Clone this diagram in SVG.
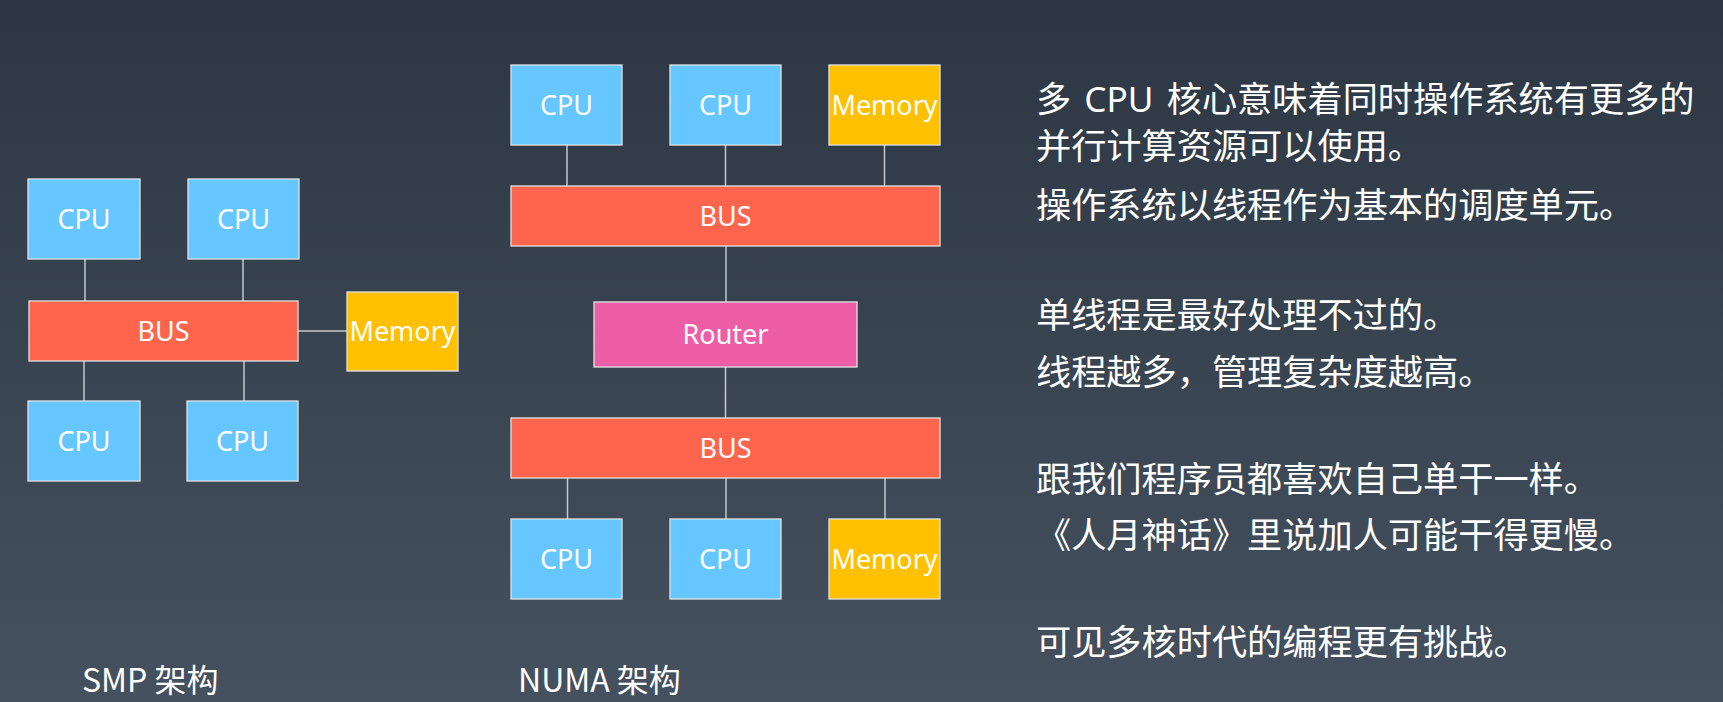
<svg xmlns="http://www.w3.org/2000/svg" width="1723" height="702" viewBox="0 0 1723 702">
<defs>
<linearGradient id="bg" x1="0" y1="0" x2="0" y2="1">
<stop offset="0" stop-color="#2d3744"/>
<stop offset="1" stop-color="#45515e"/>
</linearGradient>
<style>
.box{stroke:#e2e2e2;stroke-width:1.3}
.cpu{fill:#66c6ff}
.bus{fill:#ff654d}
.mem{fill:#ffc000}
.rt{fill:#ee5ea7}
.lbl{font-family:"Noto Sans","Noto Sans CJK SC",sans-serif;font-size:27px;fill:#ffffff;text-anchor:middle}
.txt{font-family:"Noto Sans","Noto Sans CJK SC",sans-serif;font-size:35.2px;fill:#ffffff}
.cap{font-family:"Noto Sans CJK SC","Noto Sans",sans-serif;font-size:32px;fill:#ffffff}
.ln{stroke:#c4c8cc;stroke-width:1.5;fill:none}
</style>
</defs>
<rect width="1723" height="702" fill="url(#bg)"/>

<g id="connectors">
<line class="ln" x1="85" y1="259" x2="85" y2="301"/>
<line class="ln" x1="243" y1="259" x2="243" y2="301"/>
<line class="ln" x1="84" y1="361" x2="84" y2="401"/>
<line class="ln" x1="244" y1="361" x2="244" y2="401"/>
<line class="ln" x1="298" y1="331" x2="347" y2="331"/>
<line class="ln" x1="567" y1="145" x2="567" y2="186"/>
<line class="ln" x1="725.5" y1="145" x2="725.5" y2="186"/>
<line class="ln" x1="884.5" y1="145" x2="884.5" y2="186"/>
<line class="ln" x1="726" y1="246" x2="726" y2="302"/>
<line class="ln" x1="725.5" y1="367" x2="725.5" y2="418"/>
<line class="ln" x1="567.5" y1="478" x2="567.5" y2="519"/>
<line class="ln" x1="726" y1="478" x2="726" y2="519"/>
<line class="ln" x1="885" y1="478" x2="885" y2="519"/>
</g>

<g id="smp-cpu1"><rect class="box cpu" x="28" y="179" width="112" height="80"/><text class="lbl" x="84" y="228.5">CPU</text></g>
<g id="smp-cpu2"><rect class="box cpu" x="188" y="179" width="111" height="80"/><text class="lbl" x="243.5" y="228.5">CPU</text></g>
<g id="smp-bus"><rect class="box bus" x="29" y="301" width="269" height="60"/><text class="lbl" x="163.5" y="340.5">BUS</text></g>
<g id="smp-mem"><rect class="box mem" x="347" y="292" width="111" height="79"/><text class="lbl" x="402.5" y="341">Memory</text></g>
<g id="smp-cpu3"><rect class="box cpu" x="28" y="401" width="112" height="80"/><text class="lbl" x="84" y="450.5">CPU</text></g>
<g id="smp-cpu4"><rect class="box cpu" x="187" y="401" width="111" height="80"/><text class="lbl" x="242.5" y="450.5">CPU</text></g>

<g id="numa-cpu1"><rect class="box cpu" x="511" y="65" width="111" height="80"/><text class="lbl" x="566.5" y="114.5">CPU</text></g>
<g id="numa-cpu2"><rect class="box cpu" x="670" y="65" width="111" height="80"/><text class="lbl" x="725.5" y="114.5">CPU</text></g>
<g id="numa-mem1"><rect class="box mem" x="829" y="65" width="111" height="80"/><text class="lbl" x="884.5" y="114.5">Memory</text></g>
<g id="numa-bus1"><rect class="box bus" x="511" y="186" width="429" height="60"/><text class="lbl" x="725.5" y="225.5">BUS</text></g>
<g id="numa-router"><rect class="box rt" x="594" y="302" width="263" height="65"/><text class="lbl" x="725.5" y="344">Router</text></g>
<g id="numa-bus2"><rect class="box bus" x="511" y="418" width="429" height="60"/><text class="lbl" x="725.5" y="457.5">BUS</text></g>
<g id="numa-cpu3"><rect class="box cpu" x="511" y="519" width="111" height="80"/><text class="lbl" x="566.5" y="568.5">CPU</text></g>
<g id="numa-cpu4"><rect class="box cpu" x="670" y="519" width="111" height="80"/><text class="lbl" x="725.5" y="568.5">CPU</text></g>
<g id="numa-mem2"><rect class="box mem" x="829" y="519" width="111" height="80"/><text class="lbl" x="884.5" y="568.5">Memory</text></g>

<g id="captions">
<text class="cap" x="82" y="692">SMP 架构</text>
<text class="cap" x="518" y="692">NUMA 架构</text>
</g>

<g id="notes">
<text class="txt" x="1036" y="112" word-spacing="4">多 CPU 核心意味着同时操作系统有更多的</text>
<text class="txt" x="1036" y="159">并行计算资源可以使用。</text>
<text class="txt" x="1036" y="218">操作系统以线程作为基本的调度单元。</text>
<text class="txt" x="1036" y="328">单线程是最好处理不过的。</text>
<text class="txt" x="1036" y="385">线程越多，管理复杂度越高。</text>
<text class="txt" x="1036" y="492">跟我们程序员都喜欢自己单干一样。</text>
<text class="txt" x="1036" y="548">《人月神话》里说加人可能干得更慢。</text>
<text class="txt" x="1036" y="655">可见多核时代的编程更有挑战。</text>
</g>
</svg>
